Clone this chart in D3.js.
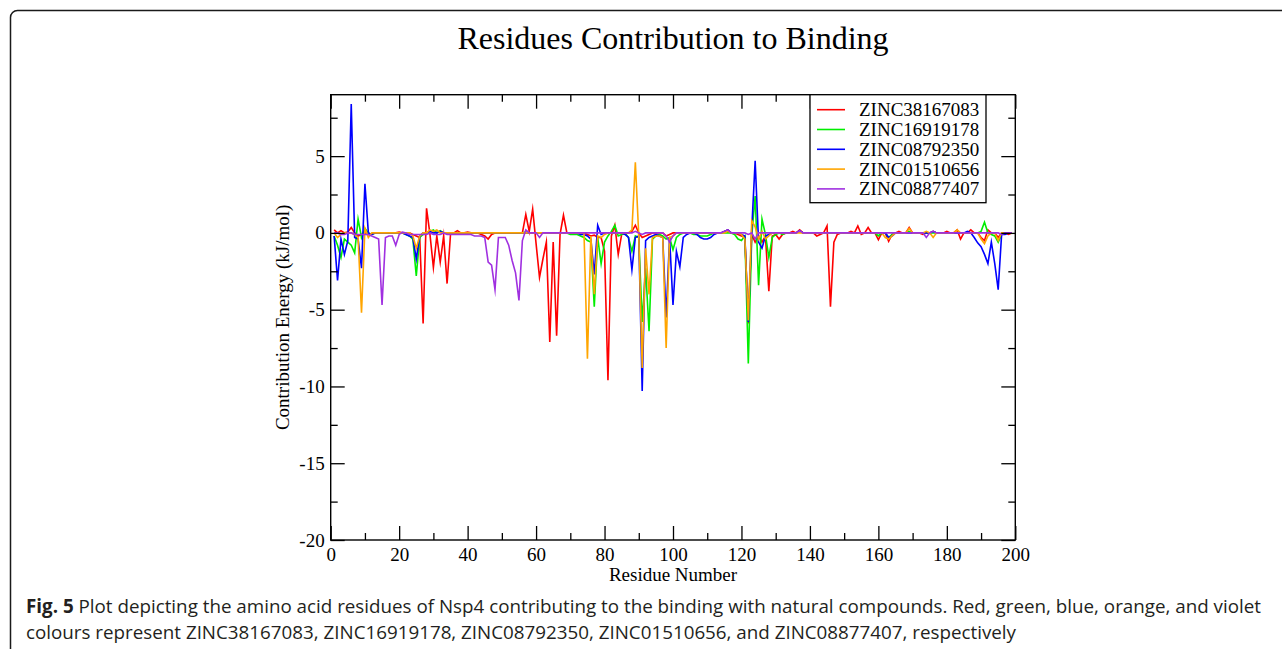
<!DOCTYPE html>
<html>
<head>
<meta charset="utf-8">
<script src="https://cdn.jsdelivr.net/npm/d3@7"></script>
<style>
  html, body { margin: 0; padding: 0; background: #fff; overflow: hidden; }
  svg { display: block; }
</style>
</head>
<body>
<svg id="chart" width="1282" height="649"></svg>
<script>
// ---------------- DATA ----------------
const titleText = "Residues Contribution to Binding";
const xLabel = "Residue Number";
const yLabel = "Contribution Energy (kJ/mol)";
const seriesNames = ["ZINC38167083", "ZINC16919178", "ZINC08792350", "ZINC01510656", "ZINC08877407"];
const seriesColors = ["#ff0000", "#00ee00", "#0000ff", "#ffa500", "#a030e0"];
const xTicksMajor = [0, 20, 40, 60, 80, 100, 120, 140, 160, 180, 200];
const yTicksMajor = [-20, -15, -10, -5, 0, 5];
const residues = d3.range(1, 200); // residues 1..199

const red = [
  0.2, 0.0, 0.15, 0.0, 0.05, 0.35, 0.0, -0.2, -0.1, 0.0,
  -0.1, -0.05, 0.0, 0.0, 0.0, 0.0, 0.0, 0.0, 0.0, 0.05,
  0.0, 0.0, 0.0, -0.1, -0.2, -0.3, -5.9, 1.6, -0.1, -2.25,
  -0.2, -1.9, -0.2, -3.3, -0.1, 0.0, 0.15, 0.0, 0.0, 0.05,
  0.0, 0.0, 0.0, -0.1, -0.2, -0.4, -0.1, 0.0, 0.0, 0.0,
  0.0, 0.0, 0.0, 0.0, 0.0, 0.0, 1.2, 0.1, 1.55, -0.7,
  -2.9, -1.7, -0.6, -7.1, -0.6, -6.7, -0.1, 1.15, 0.0, 0.0,
  0.0, 0.0, 0.0, 0.0, -0.1, -0.2, -0.15, -0.3, -0.3, -1.2,
  -9.6, -0.2, 0.5, -1.4, -0.1, 0.0, 0.0, 0.1, 0.5, 0.0,
  -0.3, -0.2, -0.1, 0.0, 0.0, 0.0, 0.0, -0.2, -0.1, 0.0,
  0.0, 0.0, 0.0, 0.0, 0.0, 0.0, 0.0, 0.0, 0.0, 0.0,
  0.0, 0.0, 0.0, 0.0, 0.1, 0.2, 0.0, 0.0, -0.1, -0.2,
  -0.3, -5.9, -0.1, -0.6, -0.2, -0.6, -0.2, -3.8, -0.2, -0.1,
  -0.4, -0.1, 0.0, 0.0, 0.1, 0.0, 0.2, 0.0, 0.0, 0.0,
  0.0, -0.2, -0.1, 0.0, 0.45, -4.8, -0.6, -0.1, 0.0, 0.0,
  0.0, 0.1, 0.0, 0.45, -0.1, 0.0, 0.35, 0.0, 0.0, -0.45,
  0.0, 0.0, -0.55, -0.1, 0.0, 0.1, 0.0, 0.0, 0.35, 0.0,
  0.0, 0.0, -0.1, 0.0, 0.0, 0.1, 0.0, 0.0, 0.0, 0.1,
  0.0, 0.0, 0.2, -0.4, 0.0, 0.0, 0.2, 0.0, 0.0, -0.3,
  -0.5, 0.2, 0.0, 0.0, -0.3, 0.0, 0.0, -0.1, 0.0
];
const green = [
  -0.2, -0.8, -1.6, -0.4, -0.6, -0.8, -1.3, 0.9, -0.3, 0.3,
  0.0, -0.1, 0.0, 0.0, 0.0, 0.0, 0.0, 0.0, 0.0, 0.0,
  0.0, -0.1, -0.2, -0.4, -2.8, -0.3, -0.1, 0.0, 0.1, 0.2,
  0.0, 0.15, 0.0, 0.0, 0.0, 0.0, 0.0, 0.0, 0.0, 0.0,
  0.0, 0.0, 0.0, 0.0, 0.0, 0.0, 0.0, 0.0, 0.0, 0.0,
  0.0, 0.0, 0.0, 0.0, 0.0, 0.0, 0.05, 0.0, 0.0, 0.0,
  0.0, 0.0, 0.0, 0.0, 0.0, 0.0, 0.0, 0.0, 0.0, -0.1,
  -0.1, -0.1, -0.2, -0.3, -0.5, -0.6, -4.8, -0.3, -2.0, -0.6,
  -0.2, 0.1, 0.5, -0.2, -0.1, 0.0, -0.3, -1.2, -0.2, -0.3,
  -5.8, -2.3, -6.4, -0.4, -0.2, -0.1, -0.2, -0.4, -0.3, -1.1,
  -0.3, -0.1, 0.0, 0.0, 0.0, -0.1, -0.1, -0.2, -0.2, -0.2,
  -0.1, 0.0, 0.0, 0.0, 0.0, 0.0, 0.0, -0.1, -0.4, -0.5,
  -0.2, -8.5, -0.2, 2.4, -3.4, 0.9, -0.1, -1.6, -0.3, -0.1,
  0.0, -0.1, 0.0, 0.0, 0.0, 0.0, 0.1, 0.0, 0.0, 0.0,
  0.0, 0.0, 0.0, 0.0, 0.0, 0.0, 0.0, 0.0, 0.0, 0.0,
  0.0, 0.0, 0.0, 0.0, 0.0, 0.0, 0.0, 0.0, 0.0, -0.2,
  0.0, 0.0, -0.3, -0.1, 0.0, 0.0, 0.0, 0.0, 0.1, 0.0,
  0.0, 0.0, 0.0, 0.0, 0.0, 0.0, 0.0, 0.0, 0.0, 0.0,
  0.0, 0.0, 0.0, 0.0, 0.0, 0.0, 0.0, 0.0, 0.0, 0.1,
  0.7, 0.0, -0.1, -0.2, -0.6, -0.1, 0.0, 0.0, 0.0
];
const blue = [
  -0.2, -3.1, -0.4, -1.4, -0.5, 8.4, -0.3, -0.4, -2.3, 3.2,
  0.0, -0.1, 0.0, 0.0, 0.0, 0.0, 0.0, 0.0, 0.0, 0.0,
  0.0, -0.1, -0.2, -0.3, -1.7, -0.2, 0.0, 0.0, 0.1, 0.0,
  0.0, 0.1, 0.0, 0.0, 0.0, 0.0, 0.0, 0.0, 0.0, 0.0,
  0.0, 0.0, 0.0, 0.0, 0.0, 0.0, 0.0, 0.0, 0.0, 0.0,
  0.0, 0.0, 0.0, 0.0, 0.0, 0.0, 0.0, 0.0, 0.0, 0.0,
  0.0, 0.0, 0.0, 0.0, 0.0, 0.0, 0.0, 0.0, 0.0, 0.0,
  0.0, 0.0, -0.1, -0.1, -0.2, -0.4, -2.7, 0.5, -0.1, 0.0,
  0.0, 0.0, 0.0, 0.0, 0.0, -0.1, -0.3, -2.4, -0.3, -0.2,
  -10.3, -0.5, -0.3, -0.2, -0.1, -0.2, -0.3, -5.5, -0.3, -4.7,
  -1.2, -2.2, -0.3, -0.1, 0.0, 0.0, -0.1, -0.3, -0.4, -0.4,
  -0.3, -0.1, 0.0, 0.0, 0.1, 0.2, 0.0, 0.0, 0.0, -0.1,
  -0.2, -5.8, 0.2, 4.7, -0.6, -1.0, -0.2, -0.1, 0.0, 0.0,
  0.0, 0.0, 0.0, 0.0, 0.0, 0.0, 0.15, 0.0, 0.0, 0.0,
  0.0, 0.0, 0.0, 0.0, 0.0, 0.0, 0.0, 0.0, 0.0, 0.0,
  0.0, 0.0, 0.0, 0.0, 0.0, 0.0, 0.0, 0.0, 0.0, 0.0,
  0.0, 0.0, -0.3, -0.2, 0.0, 0.0, 0.0, 0.0, 0.0, 0.0,
  0.0, 0.0, 0.0, 0.0, 0.0, 0.1, 0.0, 0.0, 0.0, 0.0,
  0.0, 0.0, 0.0, 0.0, 0.0, 0.1, 0.0, -0.3, -0.65, -0.9,
  -1.4, -2.0, -0.6, -2.0, -3.7, -0.1, -0.1, 0.0, 0.0
];
const orange = [
  0.0, -0.3, -0.1, 0.0, 0.0, 0.0, -0.1, -0.3, -5.2, 0.3,
  -0.3, 0.0, 0.0, 0.0, 0.0, 0.0, 0.0, 0.0, 0.0, 0.0,
  0.0, 0.0, 0.0, -0.2, -1.0, -0.2, 0.0, 0.0, 0.2, 0.1,
  0.2, 0.0, 0.0, 0.0, 0.0, 0.0, 0.0, 0.0, 0.0, 0.0,
  0.0, 0.0, 0.0, 0.0, 0.0, 0.0, 0.0, 0.0, 0.0, 0.0,
  0.0, 0.0, 0.0, 0.0, 0.0, 0.0, 0.0, 0.0, 0.0, 0.0,
  0.0, 0.0, 0.0, 0.0, 0.0, 0.0, 0.0, 0.0, 0.0, 0.0,
  0.0, 0.0, 0.0, 0.0, -8.2, -0.2, -4.0, -0.2, -0.3, -0.1,
  0.0, 0.0, 0.0, 0.0, 0.0, 0.0, 0.0, 0.2, 4.6, -0.2,
  -8.8, -1.0, -4.0, -0.3, -0.2, -0.2, -0.3, -7.5, -0.3, -0.2,
  0.0, 0.0, 0.0, 0.0, 0.0, 0.0, 0.0, 0.0, 0.0, 0.0,
  0.0, 0.0, 0.0, 0.0, 0.0, 0.1, 0.0, 0.0, 0.0, -0.1,
  -0.4, -5.7, 0.8, 0.4, -0.4, 0.1, -0.4, -0.2, 0.0, 0.0,
  0.0, 0.0, 0.0, 0.0, 0.0, 0.0, 0.0, 0.0, 0.0, 0.0,
  0.0, 0.0, 0.0, 0.0, 0.0, 0.0, 0.0, 0.0, 0.0, 0.0,
  0.0, 0.0, 0.0, 0.0, 0.0, 0.0, 0.0, 0.0, 0.0, 0.0,
  0.0, -0.3, -0.4, -0.2, 0.0, 0.0, 0.0, 0.0, 0.3, 0.0,
  0.0, 0.0, 0.0, 0.1, 0.0, -0.3, 0.0, 0.0, 0.0, 0.0,
  0.0, 0.0, 0.2, 0.0, 0.0, 0.0, 0.0, 0.0, 0.0, -0.4,
  -0.7, -0.2, 0.0, 0.0, -0.5, 0.0, 0.0, 0.0, 0.0
];
const purple = [
  0.0, 0.0, -0.1, -0.1, 0.0, 0.0, -0.1, -0.1, -0.1, -0.1,
  -0.1, -0.2, -0.3, -0.4, -4.7, -0.3, -0.2, -0.2, -0.8, -0.1,
  0.05, 0.0, -0.1, -0.1, -0.1, -0.1, -0.1, -0.1, 0.0, -0.1,
  -0.1, -0.1, 0.0, -0.1, -0.1, -0.1, -0.1, -0.1, -0.1, -0.1,
  -0.1, -0.2, -0.2, -0.2, -0.3, -1.9, -2.1, -3.7, -0.3, -0.3,
  -0.3, -0.8, -1.8, -2.6, -4.4, -0.5, 0.2, 0.0, 0.0, 0.0,
  -0.3, 0.0, 0.0, 0.0, 0.0, 0.0, 0.0, 0.0, 0.0, 0.0,
  0.0, 0.0, 0.0, 0.0, 0.0, 0.0, 0.0, 0.0, 0.0, 0.0,
  0.0, 0.0, 0.0, 0.0, 0.0, 0.0, 0.0, 0.0, 0.1, 0.0,
  -0.1, 0.0, 0.0, 0.0, 0.0, 0.0, 0.0, -0.2, -0.6, -0.2,
  0.0, 0.0, 0.0, 0.0, 0.0, 0.0, 0.0, 0.0, 0.0, 0.0,
  0.0, 0.0, 0.0, 0.0, 0.1, 0.2, 0.0, 0.0, 0.0, 0.0,
  0.0, -0.1, 0.0, -0.4, 0.0, 0.0, 0.0, 0.0, 0.0, 0.0,
  0.0, 0.0, 0.0, 0.0, 0.0, 0.0, 0.15, 0.0, 0.0, 0.0,
  0.0, 0.0, 0.0, 0.0, 0.0, 0.0, 0.0, 0.0, 0.0, 0.0,
  0.0, 0.0, 0.0, 0.0, 0.0, 0.0, 0.0, 0.0, 0.0, 0.0,
  0.0, 0.0, 0.0, 0.0, 0.0, 0.0, 0.0, 0.0, 0.0, 0.0,
  0.0, 0.0, 0.0, -0.3, 0.0, 0.1, 0.0, 0.0, 0.0, 0.0,
  0.0, 0.0, 0.0, 0.0, 0.0, 0.0, 0.0, 0.0, 0.0, 0.0,
  0.0, 0.0, 0.0, 0.0, 0.0, -0.1, 0.0, 0.0, 0.0
];
const seriesValues = [red, green, blue, orange, purple];

const captionBold = "Fig. 5";
const captionLine1 = " Plot depicting the amino acid residues of Nsp4 contributing to the binding with natural compounds. Red, green, blue, orange, and violet";
const captionLine2 = "colours represent ZINC38167083, ZINC16919178, ZINC08792350, ZINC01510656, and ZINC08877407, respectively";

// ---------------- LAYOUT ----------------
const svg = d3.select("#chart");
const serif = "'Liberation Serif', 'Times New Roman', serif";
const plot = { left: 330.7, right: 1015.3, top: 94.7, bottom: 540 };

// outer rounded border (right and bottom edges run off the page)
svg.append("rect")
  .attr("x", 10.5).attr("y", 10.5)
  .attr("width", 1300).attr("height", 700)
  .attr("rx", 7).attr("ry", 7)
  .attr("fill", "none").attr("stroke", "#1a1a1a").attr("stroke-width", 1.5);

const x = d3.scaleLinear().domain([0, 200]).range([plot.left, plot.right]);
const y = d3.scaleLinear().domain([-20, 9]).range([plot.bottom, plot.top]);

// title
svg.append("text")
  .attr("x", (plot.left + plot.right) / 2).attr("y", 49)
  .attr("text-anchor", "middle")
  .attr("font-family", serif).attr("font-size", 32)
  .attr("fill", "#000")
  .text(titleText);

// series lines
const line = d3.line()
  .x((d, i) => x(residues[i]))
  .y(d => y(d));

const linesG = svg.append("g");
seriesValues.forEach((vals, k) => {
  linesG.append("path")
    .datum(vals)
    .attr("d", line)
    .attr("fill", "none")
    .attr("stroke", seriesColors[k])
    .attr("stroke-width", 1.6)
    .attr("stroke-linejoin", "miter")
    .attr("stroke-miterlimit", 10);
});

// axes: major & minor ticks, inward, all four sides
const xMinor = d3.range(10, 200, 20);
const yMinor = d3.range(-17.5, 9, 5);

function styleAxis(g) {
  g.select(".domain").remove();
  g.selectAll("line").attr("stroke", "#000").attr("stroke-width", 1.3);
  g.selectAll("text").attr("font-family", serif).attr("font-size", 19).attr("fill", "#000");
}

svg.append("g").attr("transform", `translate(0,${plot.bottom})`)
  .call(d3.axisBottom(x).tickValues(xTicksMajor).tickSize(-14).tickPadding(8).tickFormat(d => String(d)))
  .call(styleAxis);
svg.append("g").attr("transform", `translate(0,${plot.bottom})`)
  .call(d3.axisBottom(x).tickValues(xMinor).tickSize(-7).tickFormat(""))
  .call(styleAxis);
svg.append("g").attr("transform", `translate(0,${plot.top})`)
  .call(d3.axisTop(x).tickValues(xTicksMajor).tickSize(-14).tickFormat(""))
  .call(styleAxis);
svg.append("g").attr("transform", `translate(0,${plot.top})`)
  .call(d3.axisTop(x).tickValues(xMinor).tickSize(-7).tickFormat(""))
  .call(styleAxis);

svg.append("g").attr("transform", `translate(${plot.left},0)`)
  .call(d3.axisLeft(y).tickValues(yTicksMajor).tickSize(-14).tickPadding(6).tickFormat(d => String(d)))
  .call(styleAxis);
svg.append("g").attr("transform", `translate(${plot.left},0)`)
  .call(d3.axisLeft(y).tickValues(yMinor).tickSize(-7).tickFormat(""))
  .call(styleAxis);
svg.append("g").attr("transform", `translate(${plot.right},0)`)
  .call(d3.axisRight(y).tickValues(yTicksMajor).tickSize(-14).tickFormat(""))
  .call(styleAxis);
svg.append("g").attr("transform", `translate(${plot.right},0)`)
  .call(d3.axisRight(y).tickValues(yMinor).tickSize(-7).tickFormat(""))
  .call(styleAxis);

// frame
svg.append("rect")
  .attr("x", plot.left).attr("y", plot.top)
  .attr("width", plot.right - plot.left).attr("height", plot.bottom - plot.top)
  .attr("fill", "none").attr("stroke", "#000").attr("stroke-width", 1.4);

// axis labels
svg.append("text")
  .attr("x", (plot.left + plot.right) / 2).attr("y", 581)
  .attr("text-anchor", "middle")
  .attr("font-family", serif).attr("font-size", 19).attr("fill", "#000")
  .text(xLabel);
svg.append("text")
  .attr("transform", `translate(289,${(plot.top + plot.bottom) / 2}) rotate(-90)`)
  .attr("text-anchor", "middle")
  .attr("font-family", serif).attr("font-size", 19).attr("fill", "#000")
  .text(yLabel);

// legend
const leg = svg.append("g");
leg.append("rect")
  .attr("x", 810).attr("y", plot.top)
  .attr("width", 176).attr("height", 108)
  .attr("fill", "#fff").attr("stroke", "#000").attr("stroke-width", 1.3);
seriesNames.forEach((name, k) => {
  const cy = 109.7 + k * 19.8;
  leg.append("line")
    .attr("x1", 817).attr("x2", 845).attr("y1", cy).attr("y2", cy)
    .attr("stroke", seriesColors[k]).attr("stroke-width", 1.6);
  leg.append("text")
    .attr("x", 859).attr("y", cy + 6.5)
    .attr("font-family", serif).attr("font-size", 19).attr("fill", "#000")
    .text(name);
});

// caption
const capFont = "'Open Sans', 'Noto Sans', sans-serif";
const cap1 = svg.append("text")
  .attr("x", 26).attr("y", 613)
  .attr("font-family", capFont).attr("font-size", 16).attr("fill", "#231f20");
cap1.append("tspan").attr("font-weight", "bold").text(captionBold);
cap1.append("tspan").text(captionLine1);
const cap2 = svg.append("text")
  .attr("x", 26).attr("y", 639)
  .attr("font-family", capFont).attr("font-size", 16).attr("fill", "#231f20")
  .text(captionLine2);
// fit caption line 1 to the measured width in the reference
const w1 = cap1.node().getComputedTextLength();
const fs = 16 * 1236 / w1;
cap1.attr("font-size", fs);
cap2.attr("font-size", fs);
</script>
</body>
</html>
